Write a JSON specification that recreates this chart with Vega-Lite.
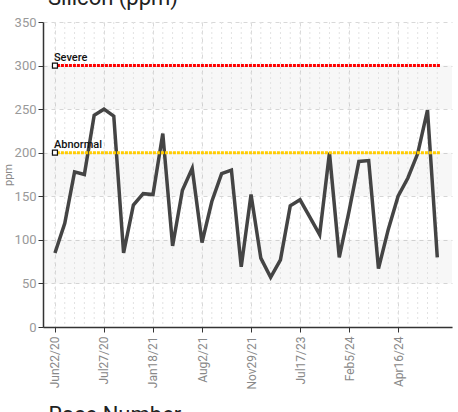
{
  "$schema": "https://vega.github.io/schema/vega-lite/v6.json",
  "width": 409,
  "height": 305,
  "autosize": {"type": "none"},
  "padding": {"left": 43, "top": 22, "right": 6, "bottom": 85},
  "background": "white",
  "title": {"text": "Silicon (ppm)", "anchor": "start", "frame": "group", "offset": 6, "fontSize": 22, "fontWeight": "normal", "color": "#222", "font": "Roboto", "dx": 5},
  "config": {
    "view": {"stroke": null},
    "axis": {"labelFont": "Roboto", "titleFont": "Roboto", "domainColor": "#333", "tickColor": "#333"}
  },
  "datasets": {
    "main": [
      {"idx": 0, "si": 85}, {"idx": 1, "si": 119}, {"idx": 2, "si": 178}, {"idx": 3, "si": 175},
      {"idx": 4, "si": 243}, {"idx": 5, "si": 250}, {"idx": 6, "si": 242}, {"idx": 7, "si": 85},
      {"idx": 8, "si": 140}, {"idx": 9, "si": 153}, {"idx": 10, "si": 152}, {"idx": 11, "si": 222},
      {"idx": 12, "si": 93}, {"idx": 13, "si": 157}, {"idx": 14, "si": 182}, {"idx": 15, "si": 97},
      {"idx": 16, "si": 144}, {"idx": 17, "si": 176}, {"idx": 18, "si": 180}, {"idx": 19, "si": 69},
      {"idx": 20, "si": 152}, {"idx": 21, "si": 79}, {"idx": 22, "si": 57}, {"idx": 23, "si": 77},
      {"idx": 24, "si": 139}, {"idx": 25, "si": 146}, {"idx": 26, "si": 126}, {"idx": 27, "si": 106},
      {"idx": 28, "si": 200}, {"idx": 29, "si": 80}, {"idx": 30, "si": 133}, {"idx": 31, "si": 190},
      {"idx": 32, "si": 191}, {"idx": 33, "si": 67}, {"idx": 34, "si": 112}, {"idx": 35, "si": 150},
      {"idx": 36, "si": 171}, {"idx": 37, "si": 199}, {"idx": 38, "si": 249}, {"idx": 39, "si": 80}
    ],
    "thresh": [
      {"name": "Severe", "value": 300, "color": "#ff0000"},
      {"name": "Abnormal", "value": 200, "color": "#ffcc00"}
    ],
    "bands": [
      {"lo": 50, "hi": 100}, {"lo": 150, "hi": 200}, {"lo": 250, "hi": 300}
    ]
  },
  "layer": [
    {
      "data": {"name": "bands"},
      "mark": {"type": "rect", "color": "#000", "opacity": 0.03},
      "encoding": {
        "y": {"field": "lo", "type": "quantitative", "scale": {"domain": [0, 350], "nice": false}},
        "y2": {"field": "hi"}
      }
    },
    {
      "data": {"name": "main"},
      "mark": {"type": "rule", "color": "#e2e2e2", "strokeDash": [2, 3], "strokeWidth": 1},
      "encoding": {
        "x": {"field": "idx", "type": "quantitative"}
      }
    },
    {
      "data": {"name": "main"},
      "mark": {"type": "line", "color": "#444", "strokeWidth": 3.5},
      "encoding": {
        "x": {
          "field": "idx", "type": "quantitative",
          "scale": {"domain": [-1.22, 40.5], "nice": false, "zero": false},
          "axis": {
            "values": [0, 5, 10, 15, 20, 25, 30, 35],
            "labelExpr": "['Jun22/20','Jul27/20','Jan18/21','Aug2/21','Nov29/21','Jul17/23','Feb5/24','Apr16/24'][round(datum.value/5)]",
            "labelAngle": -90, "labelFontSize": 12, "labelColor": "#888", "labelPadding": 4,
            "grid": true, "gridDash": [4, 4], "gridColor": "#d8d8d8",
            "tickSize": 5, "domainWidth": 1.5,
            "title": "Race Number", "titleFontSize": 22, "titleFontWeight": "normal", "titleColor": "#222",
            "titleX": 5, "titleY": 94, "titleAlign": "left", "titleBaseline": "alphabetic"
          }
        },
        "y": {
          "field": "si", "type": "quantitative",
          "scale": {"domain": [0, 350], "nice": false},
          "axis": {
            "values": [0, 50, 100, 150, 200, 250, 300, 350],
            "labelFontSize": 13, "labelColor": "#999", "labelPadding": 2,
            "grid": true, "gridDash": [4, 4], "gridColor": "#d8d8d8",
            "tickSize": 5, "domainWidth": 1.5,
            "title": "ppm", "titleFontSize": 11, "titleFontWeight": "normal", "titleColor": "#888", "titlePadding": 1
          }
        }
      }
    },
    {
      "data": {"name": "thresh"},
      "mark": {"type": "rule", "strokeWidth": 3, "strokeDash": [3, 1]},
      "encoding": {
        "x": {"datum": 0.2},
        "x2": {"datum": 39.3},
        "y": {"field": "value", "type": "quantitative"},
        "color": {"field": "color", "type": "nominal", "scale": null}
      }
    },
    {
      "data": {"name": "thresh"},
      "mark": {"type": "point", "shape": "square", "size": 25, "filled": true, "fill": "white", "stroke": "#111", "strokeWidth": 1.2, "opacity": 1},
      "encoding": {
        "x": {"datum": 0},
        "y": {"field": "value", "type": "quantitative"}
      }
    },
    {
      "data": {"name": "thresh"},
      "mark": {"type": "text", "align": "left", "baseline": "bottom", "dx": -1, "dy": -3, "fontSize": 11, "font": "Roboto", "fontWeight": 500, "color": "#111"},
      "encoding": {
        "x": {"datum": 0},
        "y": {"field": "value", "type": "quantitative"},
        "text": {"field": "name"}
      }
    }
  ]
}
